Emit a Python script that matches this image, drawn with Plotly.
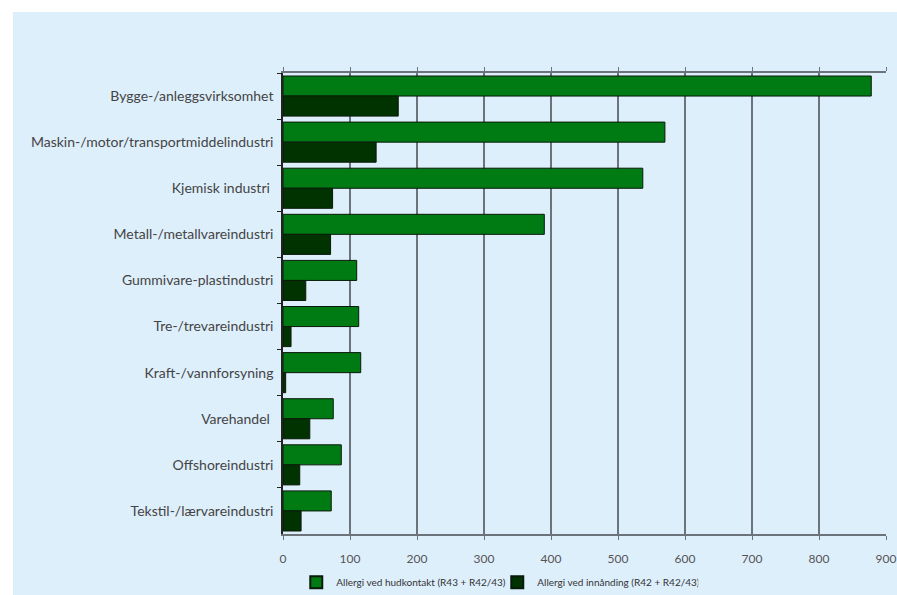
import plotly.graph_objects as go

categories = [
    "Bygge-/anleggsvirksomhet",
    "Maskin-/motor/transportmiddelindustri",
    "Kjemisk industri ",
    "Metall-/metallvareindustri",
    "Gummivare-plastindustri",
    "Tre-/trevareindustri",
    "Kraft-/vannforsyning",
    "Varehandel ",
    "Offshoreindustri",
    "Tekstil-/lærvareindustri",
]
hud = [878, 570, 537, 390, 110, 113, 116, 75, 87, 72]
innanding = [172, 139, 74, 71, 34, 12, 4, 40, 25, 27]
x_ticks = [0, 100, 200, 300, 400, 500, 600, 700, 800, 900]

name_hud = "Allergi ved hudkontakt (R43 + R42/43)"
name_inn = "Allergi ved innånding (R42 + R42/43)"

fig = go.Figure()
fig.add_trace(go.Bar(
    y=categories, x=hud, orientation="h", name=name_hud,
    marker=dict(color="#007A12", line=dict(color="#0a1a0a", width=1)),
))
fig.add_trace(go.Bar(
    y=categories, x=innanding, orientation="h", name=name_inn,
    marker=dict(color="#003300", line=dict(color="#0a1a0a", width=1)),
))

L, R, T, B = 283, 11, 73, 61
W, H = 897, 595
pw, ph = W - L - R, H - T - B

fig.add_shape(
    type="rect", xref="paper", yref="paper", layer="below",
    x0=(13 - L) / pw, x1=(W + 5 - L) / pw,
    y0=-(B + 5) / ph, y1=(H - B - 12) / ph,
    fillcolor="#DEEFFC", line=dict(width=0),
)

fig.update_layout(
    width=W, height=H,
    margin=dict(l=L, r=R, t=T, b=B, autoexpand=False),
    paper_bgcolor="white",
    plot_bgcolor="#DEEFFC",
    barmode="group",
    bargap=0.13,
    bargroupgap=0,
    font=dict(family="Lato", color="#444"),
    showlegend=True,
    legend=dict(
        orientation="h", x=0.022, y=-0.073, xanchor="left", yanchor="top",
        font=dict(size=10, color="#333"), bgcolor="rgba(0,0,0,0)",
        entrywidth=156, entrywidthmode="pixels",
        itemsizing="constant", traceorder="normal",
    ),
    xaxis=dict(
        range=[0, 900], tickvals=x_ticks, ticktext=[str(v) for v in x_ticks],
        showgrid=True, gridcolor="#6d737a", gridwidth=1.5,
        showline=True, linecolor="#6d737a", linewidth=1.5, mirror="ticks",
        ticks="outside", ticklen=4, tickcolor="#6d737a", automargin=False,
        ticklabelstandoff=9,
        tickfont=dict(size=12, color="#555"), zeroline=False,
    ),
    yaxis=dict(
        categoryorder="array", categoryarray=categories, autorange="reversed",
        showline=True, linecolor="#222", linewidth=1.5, automargin=False,
        ticks="outside", ticklen=4, tickcolor="#222", tickson="boundaries",
        ticklabelstandoff=5,
        tickfont=dict(size=14, color="#444"), showgrid=False, zeroline=False,
    ),
)

fig.write_html("out.html")
